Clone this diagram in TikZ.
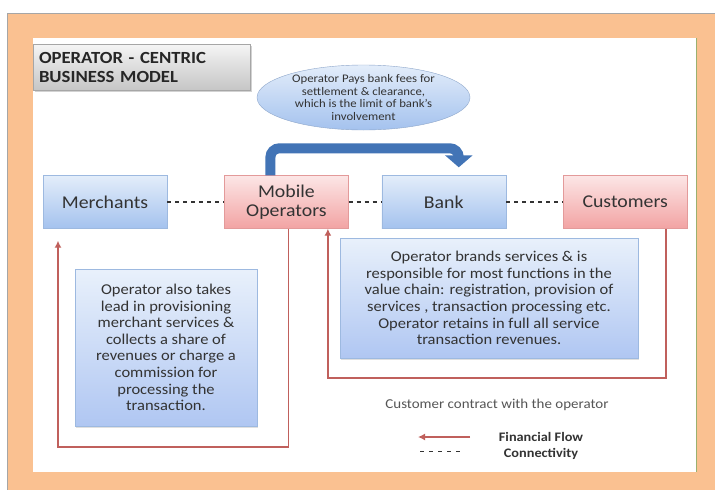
\documentclass[tikz,border=0pt]{standalone}
\usepackage{fontspec}
\setmainfont{Carlito}[FakeStretch=1.1]
\usepackage{xcolor}
\definecolor{framebg}{HTML}{FAC191}
\definecolor{frameline}{HTML}{A6A6A6}
\definecolor{textgray}{HTML}{333333}
\definecolor{lightgray}{HTML}{555555}
\definecolor{bluetop}{HTML}{E3EDFA}
\definecolor{bluebot}{HTML}{A4C2EE}
\definecolor{blueline}{HTML}{9DB9E0}
\definecolor{redtop}{HTML}{FCE6E6}
\definecolor{redbot}{HTML}{F2A3A3}
\definecolor{redline}{HTML}{E39A9A}
\definecolor{flowred}{HTML}{C0605C}
\definecolor{paysblue}{HTML}{4274B6}
\usepackage{tikz}
\usetikzlibrary{shapes.geometric,shadows,arrows.meta,positioning}

\begin{document}
\begin{tikzpicture}[x=1pt, y=-1pt, node distance = 57pt,
	party/.style={
		rectangle, inner sep=0pt, minimum width=124pt, minimum height=53pt,
		draw=blueline, top color=bluetop, bottom color=bluebot, text=textgray,
		align=center, font=\fontsize{18}{19.5}\selectfont},
	operator/.style={party, draw=redline, top color=redtop, bottom color=redbot},
	note/.style={
		rectangle, inner sep=0pt, draw=blueline, top color=bluetop!80!white,
		bottom color=bluebot!95!blue!80!white, text=textgray, align=center,
		font=\fontsize{15}{16.6}\selectfont,
		drop shadow={shadow xshift=1pt, shadow yshift=-1.5pt, opacity=0.25}},
	connect/.style={draw=textgray, line width=1.1pt, dash pattern=on 4pt off 4pt},
	finflow/.style={draw=flowred, line width=1.8pt, -{Latex[length=7pt,width=7pt]}}]
	\useasboundingbox (0,0) rectangle (715,490);
	% frame
	\fill[framebg] (7,13) rectangle (715,490);
	\draw[frameline, line width=1pt] (7,490) -- (7,13) -- (715,13);
	\fill[white] (33,38) rectangle (696,472);
	\draw[green!30!gray!60!framebg, line width=0.8pt] (696,38) -- (696,472);

	\node (title) [rectangle, inner sep=0pt, minimum width=217pt, minimum height=46pt,
		draw=frameline, top color=gray!8, bottom color=gray!45, text=black!85,
		text width=205pt, align=left, font=\fontsize{17}{19}\bfseries,
		drop shadow={shadow xshift=1.5pt, shadow yshift=-1.5pt, opacity=0.35}]
		at (141.5,67) {OPERATOR - CENTRIC\\BUSINESS MODEL};

	\node (fees) [ellipse, inner sep=0pt, minimum width=213pt, minimum height=65pt,
		draw=blueline!90!black, top color=bluetop, bottom color=bluebot, text=textgray,
		align=center, font=\fontsize{11.6}{12.6}\selectfont]
		at (363.5,97.5) {Operator Pays bank fees for\\settlement \& clearance,\\which is the limit of bank's\\involvement};

	\node (merch) [party] at (105,202) {Merchants};
	\node (mobop) [operator, right=of merch] {Mobile\\Operators};
	\node (bank) [party, right=33pt of mobop] {Bank};
	\node (cust) [operator, right=of bank] {Customers};

	\draw[connect] (merch) -- (mobop);
	\draw[connect] (mobop) -- (bank);
	\draw[connect] (bank) -- (cust);

	% bank fees
	\draw[paysblue, line width=10pt, rounded corners=9pt,
		-{Triangle[width=27pt,length=12pt]}]
		([xshift=-16pt]mobop.north) -- ++(0,-27) -| ([xshift=15pt,yshift=8pt]bank.north);

	% financial flows
	\draw[finflow] ([xshift=2pt]mobop.south) -- ++(0,218) -| ([xshift=-47pt,yshift=-12pt]merch.south);
	\draw[finflow] ([xshift=41pt]cust.south) -- ++(0,149) -| ([xshift=41.5pt]mobop.south);

	\node (merchnote) [note, minimum width=182pt, minimum height=157pt] at (166,347.5)
		{Operator also takes\\lead in provisioning\\merchant services \&\\collects a share of\\revenues or charge a\\commission for\\processing the\\transaction.};
	\node (opnote) [note, minimum width=298pt, minimum height=120pt] at (489,298)
		{Operator brands services \& is\\responsible for most functions in the\\value chain: registration, provision of\\services , transaction processing etc.\\Operator retains in full all service\\transaction revenues.};

	\node (contract) [text=lightgray, font=\fontsize{13.6}{15}\selectfont] at (497,405)
		{Customer contract with the operator};

	% legend
	\coordinate (flowA) at (470,437);
	\coordinate (flowB) at (418,437);
	\coordinate (dashA) at (420,451);
	\coordinate (dashB) at (462,451);
	\draw[finflow] (flowA) -- (flowB);
	\draw[connect, line width=0.8pt, dash pattern=on 4pt off 5pt] (dashA) -- (dashB);
	\node (flowlbl) [text=textgray, font=\fontsize{13}{14}\bfseries] at (541,437) {Financial Flow};
	\node (connlbl) [text=textgray, font=\fontsize{13}{14}\bfseries, below=0pt of flowlbl] {Connectivity};
\end{tikzpicture}
\end{document}
